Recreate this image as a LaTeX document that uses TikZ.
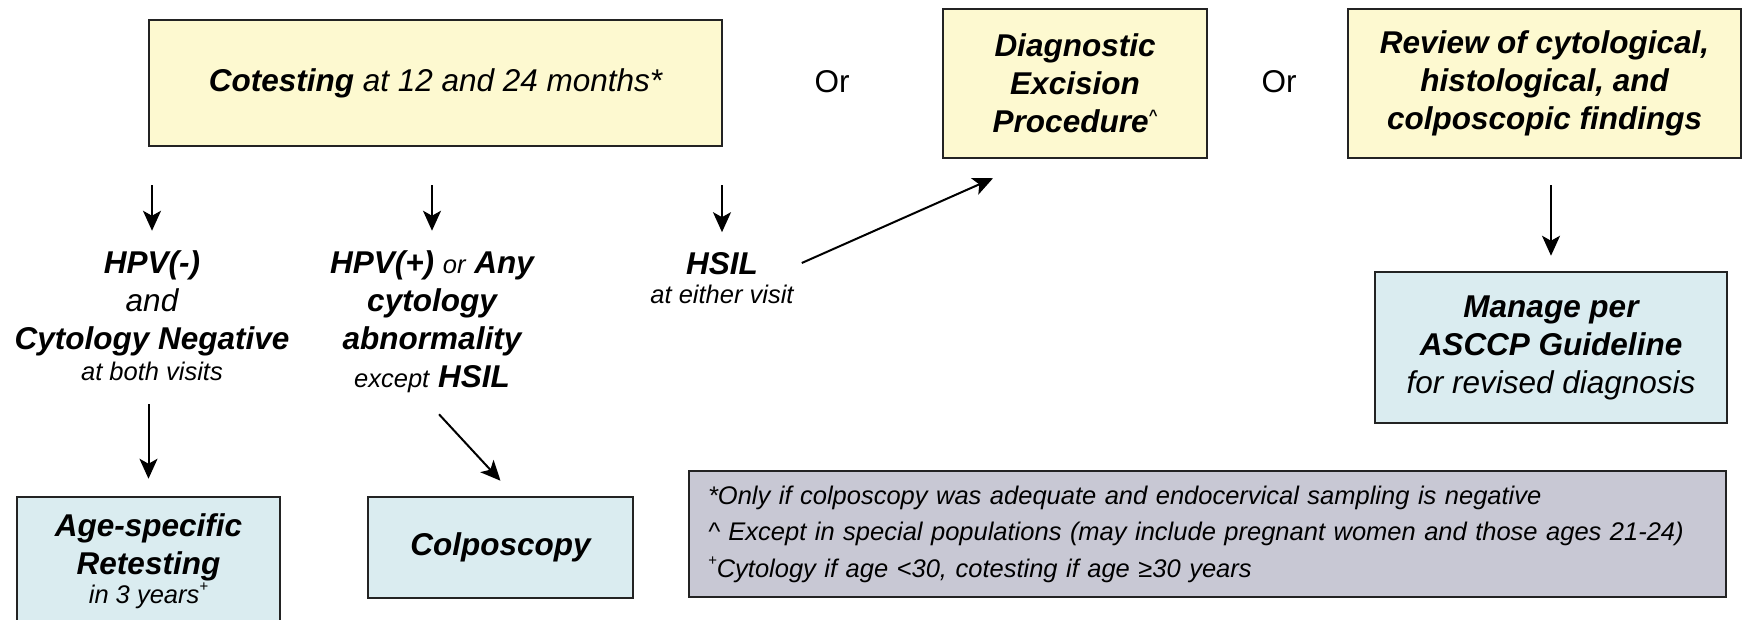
\documentclass[tikz,border=0pt]{standalone}
\usepackage{fontspec}
\setmainfont{Liberation Sans}
\usetikzlibrary{arrows.meta}
\definecolor{ybg}{RGB}{253,249,208}
\definecolor{bbg}{RGB}{218,236,240}
\definecolor{gbg}{RGB}{200,200,212}
\definecolor{bord}{RGB}{35,35,35}
\newcommand\fBig{\fontsize{31.5}{38}\selectfont}
\newcommand\fSm{\fontsize{25.5}{30}\selectfont}
\newcommand\tinysup[1]{\raisebox{12pt}{\fontsize{15}{15}\selectfont #1}}
\begin{document}
\begin{tikzpicture}[x=1pt,y=-1pt,
  box/.style={draw=bord,line width=2.5pt,inner sep=0pt,align=center,font=\fBig\bfseries\itshape},
  ybox/.style={box,fill=ybg},
  bbox/.style={box,fill=bbg},
  lbl/.style={inner sep=0pt,align=center,font=\fBig\bfseries\itshape},
  ortext/.style={inner sep=0pt,font=\fBig},
  arr/.style={-{Stealth[length=20pt,width=18pt,inset=5pt]},line width=2pt,draw=black}]
\useasboundingbox (0,0) rectangle (1742,619);

% top row
\node[ybox,minimum width=573pt,minimum height=126pt] (cot) at (435.5,83)
  {Cotesting {\mdseries at 12 and 24 months*}};
\node[ortext] (or1) at (832,81.5) {Or};
\node[ybox,minimum width=264pt,minimum height=149pt] (diag) at (1075,83.5)
  {Diagnostic\\Excision\\Procedure\tinysup{\textasciicircum}};
\node[ortext] (or2) at (1279,81.5) {Or};
\node[ybox,minimum width=393pt,minimum height=149pt] (rev) at (1544.5,83.5)
  {Review of cytological,\\histological, and\\colposcopic findings};

% middle labels
\node[lbl] (hpvn) at (152,316)
  {HPV(-)\\{\mdseries and}\\Cytology Negative\\[-7pt]{\fSm\mdseries at both visits}};
\node[lbl] (hpvp) at (432,322)
  {HPV(+) {\fSm\mdseries or} Any\\cytology\\abnormality\\{\fSm\mdseries except} HSIL};
\node[lbl] (hsil) at (722,278)
  {HSIL\\[-9pt]{\fSm\mdseries at either visit}};

% bottom boxes
\node[bbox,minimum width=263pt,minimum height=128pt] (age) at (148.5,561)
  {Age-specific\\Retesting\\[-9pt]{\fSm\mdseries in 3 years\tinysup{+}}};
\node[bbox,minimum width=265pt,minimum height=101pt] (colp) at (500.5,547.5)
  {Colposcopy};
\node[bbox,minimum width=352pt,minimum height=151pt] (mng) at (1551,347.5)
  {Manage per\\ASCCP Guideline\\{\mdseries for revised diagnosis}};
\node[draw=bord,line width=2.5pt,fill=gbg,minimum width=1037pt,minimum height=126pt,
      text width=999pt,align=left,inner sep=0pt,
      font={\fontsize{25.5}{36.5}\selectfont\itshape}] (foot) at (1207.5,534)
  {*Only if colposcopy was adequate and endocervical sampling is negative\\
   \textasciicircum{} Except in special populations (may include pregnant women and those ages 21-24)\\
   \tinysup{+}Cytology if age <30, cotesting if age ≥30 years};

% connectors
\draw[arr,shorten <=38pt,shorten >=20pt] (cot.south -| hpvn.north) -- (hpvn.north);
\draw[arr,shorten <=38pt,shorten >=20pt] (cot.south -| hpvp.north) -- (hpvp.north);
\draw[arr,shorten <=38pt,shorten >=20pt] (cot.south -| hsil.north) -- (hsil.north);
\draw[arr] ([shift={(8,-15)}]hsil.east) -- ([shift={(-82,19)}]diag.south);
\draw[arr,shorten <=26pt,shorten >=15pt] (rev.south -| mng.north) -- (mng.north);
\draw[arr,shorten <=23pt,shorten >=17pt] (hpvn.south -| age.north) -- (age.north);
\draw[arr] ([shift={(7,21)}]hpvp.south) -- ([shift={(0,-15)}]colp.north);
\end{tikzpicture}
\end{document}
